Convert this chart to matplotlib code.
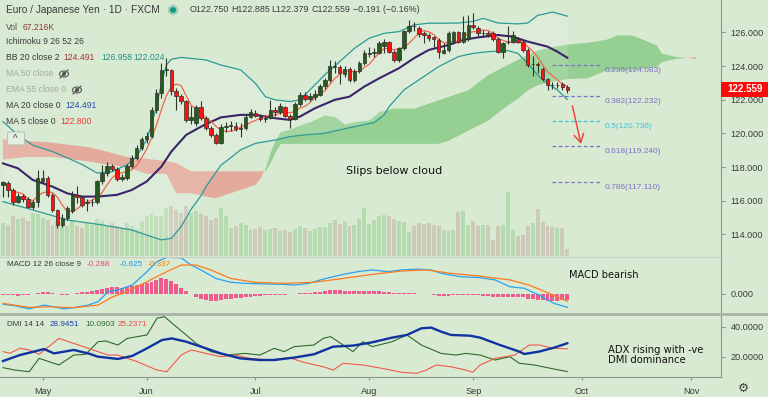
import numpy as np
import pandas as pd
import matplotlib.pyplot as plt
from matplotlib.patches import Rectangle, Ellipse, FancyBboxPatch

plt.rcParams['font.family'] = ['Liberation Sans', 'DejaVu Sans']

W, H = 768, 397
BG = '#d9ead3'

# ---------------- data (EUR/JPY daily) ----------------
opens = [116.95, 117.05, 116.65, 115.95, 116.30, 116.10, 115.65, 115.95, 117.20, 117.35,
         116.35, 115.45, 114.55, 114.95, 115.40, 116.35, 116.20, 115.85, 115.90, 115.90,
         117.15, 117.65, 118.05, 117.90, 117.30, 117.35, 118.05, 118.55, 119.15, 119.65,
         119.85, 121.40, 122.40, 123.75, 123.75, 122.50, 122.20, 121.90, 120.80, 120.60,
         121.55, 120.90, 120.35, 119.90, 119.45, 120.40, 120.45, 120.45, 120.25, 120.30,
         121.00, 121.20, 121.00, 120.85, 120.90, 121.40, 121.25, 121.55, 121.05, 120.85,
         121.75, 122.30, 122.05, 122.15, 122.30, 122.80, 123.15, 124.00, 123.95, 123.55,
         123.85, 123.15, 123.70, 124.15, 124.72, 124.75, 124.80, 125.20, 125.40, 124.85,
         124.35, 125.05, 126.05, 126.40, 126.25, 125.95, 125.85, 125.70, 125.55, 124.80,
         124.95, 125.40, 126.00, 125.45, 125.60, 126.45, 126.25, 125.95, 125.95, 125.95,
         125.60, 124.85, 125.40, 125.45, 125.60, 125.45, 124.95, 124.10, 124.10, 123.85,
         123.20, 122.90, 122.85, 122.95, 122.750]
highs = [117.20, 117.20, 116.75, 116.45, 116.40, 116.25, 116.05, 117.85, 117.85, 117.45,
         116.45, 115.50, 115.20, 115.70, 116.60, 116.85, 116.30, 116.10, 116.10, 117.25,
         118.15, 118.30, 118.20, 118.00, 117.60, 118.20, 118.70, 119.30, 119.80, 120.10,
         121.55, 122.65, 124.15, 124.45, 123.85, 122.70, 122.35, 122.00, 121.60, 121.70,
         121.95, 121.05, 120.45, 120.05, 120.55, 120.70, 120.75, 120.65, 120.60, 121.15,
         121.45, 121.40, 121.15, 121.10, 122.00, 121.55, 121.80, 121.65, 121.15, 121.85,
         122.45, 122.45, 122.40, 122.55, 122.95, 123.30, 124.35, 124.30, 124.05, 124.00,
         123.95, 123.80, 124.30, 124.95, 125.15, 125.05, 125.50, 125.60, 125.50, 124.95,
         125.15, 126.15, 126.75, 126.60, 126.35, 126.10, 125.95, 125.80, 125.65, 125.35,
         126.10, 126.10, 126.10, 126.95, 127.05, 127.15, 126.35, 126.15, 126.05, 126.05,
         125.70, 125.45, 126.35, 126.05, 125.70, 125.55, 125.05, 124.60, 124.25, 123.95,
         123.30, 123.05, 123.05, 123.05, 122.885]
lows = [116.25, 116.25, 115.75, 115.85, 115.90, 115.55, 115.50, 115.65, 117.05, 116.25,
        115.35, 114.40, 114.45, 114.85, 115.30, 115.85, 115.65, 115.40, 115.70, 115.80,
        117.00, 117.50, 117.75, 117.20, 117.15, 117.25, 117.95, 118.45, 119.00, 119.45,
        119.75, 121.20, 122.10, 123.40, 122.30, 121.40, 121.75, 120.65, 120.55, 120.45,
        120.80, 120.20, 119.80, 119.35, 119.35, 120.10, 120.15, 120.15, 119.80, 120.20,
        120.90, 120.95, 120.75, 120.65, 120.85, 121.05, 121.15, 120.95, 120.30, 120.80,
        121.65, 121.90, 121.95, 122.00, 122.20, 122.65, 123.05, 123.60, 122.95, 123.35,
        123.05, 123.05, 123.60, 124.05, 124.55, 124.55, 124.70, 124.75, 124.75, 124.25,
        124.25, 124.95, 125.95, 126.10, 125.75, 125.35, 125.50, 125.15, 124.50, 124.70,
        124.85, 125.30, 125.35, 125.35, 125.50, 126.20, 125.80, 125.75, 125.75, 125.50,
        124.75, 124.50, 125.30, 125.35, 125.35, 124.85, 123.95, 123.40, 123.60, 123.10,
        122.55, 122.65, 122.70, 122.60, 122.379]
closes = [117.10, 116.65, 115.95, 116.30, 116.10, 115.65, 115.95, 117.35, 117.35, 116.35,
          115.45, 114.55, 114.95, 115.55, 116.35, 116.20, 115.75, 115.90, 115.95, 117.15,
          117.65, 118.05, 117.90, 117.30, 117.40, 118.05, 118.55, 119.15, 119.65, 119.85,
          121.40, 122.40, 123.75, 123.80, 122.50, 122.20, 121.90, 120.80, 120.95, 121.55,
          120.90, 120.35, 119.90, 119.45, 120.40, 120.45, 120.45, 120.25, 120.30, 121.00,
          121.25, 121.05, 120.85, 120.90, 121.40, 121.25, 121.60, 121.05, 120.85, 121.75,
          122.30, 122.05, 122.20, 122.35, 122.80, 123.15, 124.00, 123.95, 123.60, 123.85,
          123.15, 123.70, 124.15, 124.75, 124.80, 124.85, 125.35, 125.40, 124.85, 124.35,
          125.05, 126.05, 126.40, 126.35, 125.90, 125.85, 125.65, 125.60, 124.85, 124.95,
          125.95, 126.00, 125.45, 126.00, 126.45, 126.30, 125.95, 125.97, 125.85, 125.60,
          124.85, 125.35, 125.45, 125.85, 125.45, 124.95, 124.05, 124.12, 124.05, 123.20,
          122.90, 122.85, 122.90, 122.75, 122.559]
volume_k = [330, 310, 400, 370, 380, 350, 430, 420, 380, 360, 310, 350, 330, 300, 350, 300,
            280, 330, 310, 370, 350, 300, 330, 300, 270, 330, 300, 270, 350, 400, 420, 400,
            400, 480, 500, 460, 430, 500, 430, 450, 420, 400, 360, 380, 480, 400, 280, 300,
            330, 310, 260, 270, 290, 260, 270, 280, 250, 260, 240, 270, 300, 280, 250, 270,
            290, 290, 330, 360, 320, 340, 300, 310, 370, 480, 320, 360, 400, 410, 400, 370,
            350, 340, 240, 300, 330, 320, 330, 310, 300, 260, 250, 260, 440, 450, 310, 350,
            300, 310, 310, 160, 300, 310, 640, 260, 200, 210, 300, 330, 470, 340, 300, 290,
            280, 280, 67]

# Bollinger bands / MA20 (bar index, price)
bb_up_x = [0, 3, 6, 10, 13, 16, 19, 22, 25, 27, 29, 30, 31, 32, 33, 34, 36, 38, 41, 44,
           48, 51, 53, 55, 58, 60, 62, 65, 68, 71, 74, 77, 80, 83, 86, 89, 92, 95, 97, 100,
           104, 106, 108, 111, 114]
bb_up = [120.70, 119.90, 119.30, 118.92, 118.55, 118.15, 117.65, 117.73, 118.13, 118.62,
         119.61, 120.50, 121.59, 122.97, 124.06, 124.40, 124.51, 124.45, 124.36, 124.06,
         123.77, 122.97, 122.18, 121.99, 121.89, 121.99, 122.58, 123.47, 124.26, 125.05,
         125.65, 125.94, 126.04, 126.44, 126.54, 126.54, 126.55, 126.65, 126.83, 126.55,
         126.50, 126.55, 127.00, 127.20, 126.96]
bb_lo_x = [0, 6, 13, 20, 26, 30, 32, 34, 36, 38, 40, 41, 44, 48, 51, 55, 58, 61, 65, 68,
           71, 75, 77, 78, 81, 85, 88, 92, 95, 98, 102, 104, 106, 108, 110, 112, 114]
bb_lo = [115.95, 115.46, 114.86, 114.57, 114.27, 113.87, 113.68, 113.77, 114.47, 115.50,
         116.30, 116.84, 118.10, 119.02, 119.41, 119.61, 119.81, 119.91, 120.01, 120.21,
         120.40, 120.65, 121.10, 121.59, 122.58, 123.37, 123.96, 124.56, 124.75, 124.85,
         124.91, 124.75, 124.16, 123.47, 122.97, 122.58, 122.02]
ma20_x = [0, 3, 6, 10, 13, 16, 19, 23, 26, 29, 32, 34, 37, 40, 41, 44, 48, 51, 55, 58,
          60, 63, 67, 70, 73, 76, 80, 83, 86, 90, 93, 96, 100, 103, 106, 110, 112, 114]
ma20 = [118.22, 117.93, 117.24, 116.84, 116.44, 116.25, 116.25, 116.35, 116.64, 117.14,
        118.03, 118.92, 119.91, 120.40, 120.55, 120.95, 121.10, 121.10, 120.90, 120.80,
        121.00, 121.49, 121.99, 122.18, 122.78, 123.27, 123.87, 124.46, 124.95, 125.25,
        125.55, 125.70, 125.84, 125.74, 125.45, 125.15, 124.85, 124.49]

# Ichimoku cloud (leading spans, shifted 26 bars ahead)
cloud_x = [0, 5, 10, 14, 17, 20, 25, 29, 33, 35, 38, 41, 43, 48, 51, 52, 53, 54, 55, 56,
           58, 60, 62, 65, 67, 69, 71, 74, 76, 79, 83, 86, 88, 90, 94, 96, 98, 101, 104, 106,
           108, 111, 114, 118, 122, 124, 127, 130, 132, 133, 136, 139, 140]
span_a = [118.45, 118.60, 118.60, 118.45, 118.35, 118.20, 118.00, 117.60, 117.60, 116.45,
          116.45, 116.25, 116.15, 116.65, 116.95, 117.30, 117.95, 118.90, 119.60, 120.10,
          120.25, 120.50, 120.70, 121.10, 121.00, 120.55, 120.70, 120.80, 121.30, 121.50,
          121.50, 121.80, 122.00, 122.20, 122.60, 123.07, 123.50, 123.96, 124.40, 124.70,
          124.95, 125.15, 125.30, 125.40, 125.60, 125.84, 125.84, 125.50, 125.25, 124.76,
          124.56, 124.48, 124.40]
span_b = [119.65, 119.55, 119.45, 119.30, 119.20, 119.00, 118.60, 118.50, 118.35, 118.25,
          117.75, 117.75, 117.75, 117.75, 117.75, 117.75, 117.80, 118.30, 118.90, 119.40,
          119.41, 119.41, 119.41, 119.41, 119.41, 119.41, 119.41, 119.41, 119.41, 119.41,
          119.41, 119.41, 119.41, 119.60, 120.20, 120.50, 120.80, 121.50, 122.10, 122.60,
          122.90, 123.10, 123.25, 123.30, 123.77, 123.77, 123.77, 123.90, 123.96, 124.26,
          124.46, 124.52, 124.52]

# Fibonacci retracement
fib_ratios = ['0.236', '0.382', '0.5', '0.618', '0.786']
fib_levels = [124.083, 122.232, 120.736, 119.240, 117.110]

# MACD (12, 26, 9)
macd_x = [0, 2.4, 5.3, 8.3, 10.3, 12.3, 14.3, 17.2, 19.2, 21.2, 23.2, 26.1, 29.1, 31.1, 33.1,
          36, 38, 40, 43, 46, 49, 52.9, 56.8, 58.8, 61.8, 64.7, 68.7, 71.7, 74.6, 77.6, 80.6,
          83.6, 86.5, 88.5, 92.5, 96.4, 99.4, 102.4, 105.3, 108.3, 111.3, 114]
macd = [-0.48, -0.55, -0.70, -0.52, -0.60, -0.70, -0.64, -0.52, -0.36, 0.11, 0.19, 0.42,
        1.05, 1.52, 1.72, 1.70, 1.36, 1.13, 0.73, 0.55, 0.50, 0.47, 0.45, 0.42, 0.50, 0.70,
        0.92, 1.05, 1.13, 1.05, 1.13, 1.17, 1.13, 0.97, 0.81, 0.77, 0.66, 0.34, 0.27, -0.05,
        -0.44, -0.625]
signal_x = [0, 5.3, 9.3, 14.3, 19.2, 22.2, 25.1, 29.1, 33.1, 36, 39, 42, 46, 50.9, 56.8,
            62.8, 68.7, 74.6, 80.6, 85.5, 90.5, 96.4, 102.4, 106.3, 110.3, 114]
signal = [-0.44, -0.63, -0.60, -0.64, -0.52, -0.13, 0.11, 0.58, 1.05, 1.36, 1.36, 1.13,
          0.73, 0.55, 0.50, 0.55, 0.73, 0.92, 1.08, 1.13, 0.97, 0.84, 0.66, 0.42, 0.03, -0.337]
macd_hist = [-0.05, -0.06, -0.07, -0.08, -0.07, -0.05, -0.02, 0.05, 0.08, 0.08, 0.04, -0.02,
             -0.05, -0.03, 0.02, 0.06, 0.08, 0.10, 0.13, 0.20, 0.25, 0.30, 0.33, 0.32, 0.30,
             0.33, 0.38, 0.43, 0.47, 0.50, 0.58, 0.68, 0.77, 0.72, 0.60, 0.45, 0.30, 0.12,
             -0.02, -0.12, -0.22, -0.30, -0.33, -0.34, -0.30, -0.25, -0.22, -0.20, -0.18,
             -0.15, -0.12, -0.10, -0.08, -0.07, -0.05, -0.04, -0.03, -0.03, -0.02, 0.00, 0.03,
             0.05, 0.06, 0.08, 0.11, 0.14, 0.18, 0.20, 0.18, 0.16, 0.14, 0.13, 0.14, 0.15,
             0.15, 0.13, 0.12, 0.10, 0.08, 0.05, 0.03, 0.04, 0.05, 0.04, 0.02, -0.01, -0.02,
             -0.04, -0.08, -0.10, -0.08, -0.06, -0.07, -0.05, -0.03, -0.05, -0.07, -0.09,
             -0.10, -0.12, -0.15, -0.14, -0.13, -0.12, -0.13, -0.16, -0.22, -0.25, -0.28,
             -0.30, -0.32, -0.33, -0.31, -0.30, -0.288]

# DMI (14, 14)
adx_x = [0, 3.4, 8.3, 10.3, 14.3, 17.2, 19.2, 23.2, 26.1, 29.1, 32.1, 34.1, 37, 40, 44,
         47.9, 51.9, 54.8, 58.8, 62.8, 66.7, 70.7, 74.6, 78.6, 81.6, 84.5, 86.5, 88.5, 90.5,
         94.4, 96.4, 100.4, 104.3, 105.3, 108.3, 111.3, 114]
adx = [17.1, 21.1, 25.1, 22.2, 24.5, 22.2, 20.0, 18.5, 20.5, 25.6, 31.1, 32.2, 30.0, 26.7,
       22.2, 18.9, 17.8, 17.8, 19.4, 21.6, 26.7, 27.4, 29.6, 32.7, 34.5, 38.9, 39.4, 36.7,
       34.5, 34.0, 32.7, 27.8, 23.4, 21.8, 23.4, 26.0, 28.95]
plus_di_x = [0, 2.4, 5.3, 7.3, 11.3, 14.3, 16.7, 19.2, 20.7, 23.2, 25.1, 29.1, 31.1, 32.6,
             35.0, 37.0, 39.0, 42.0, 45.0, 48.9, 51.9, 54.8, 56.8, 58.8, 62.8, 64.7, 66.2,
             68.7, 70.7, 72.7, 74.6, 78.6, 81.6, 84.5, 88.5, 91.5, 93.5, 96.4, 99.4, 102.4,
             104.3, 107.3, 111.3, 114]
plus_di = [12.7, 11.1, 10.0, 18.9, 14.5, 21.1, 21.6, 30.0, 30.5, 27.8, 32.2, 34.5, 45.6,
           46.7, 40.0, 34.5, 28.9, 23.4, 21.1, 22.2, 21.1, 25.6, 23.4, 26.7, 27.8, 32.2, 33.4,
           27.8, 23.4, 30.0, 26.7, 30.0, 34.5, 27.8, 22.2, 21.1, 22.2, 21.1, 17.8, 20.0,
           15.6, 14.5, 11.8, 10.09]
minus_di_x = [0, 1.4, 3.4, 5.3, 7.3, 11.3, 14.3, 17.2, 21.2, 23.2, 27.1, 31.1, 33.1, 36.0,
              38.0, 41.0, 44.0, 46.9, 49.9, 53.9, 57.8, 60.8, 64.7, 66.7, 68.7, 72.7, 76.6,
              80.6, 83.6, 85.5, 87.5, 90.5, 93.5, 94.9, 96.4, 99.4, 103.4, 106.3, 108.3,
              111.3, 114]
minus_di = [23.4, 22.3, 25.6, 24.5, 21.6, 32.2, 28.9, 25.6, 21.1, 21.1, 16.7, 11.1, 10.0,
            21.1, 24.5, 22.2, 20.0, 21.1, 18.9, 17.8, 19.4, 16.2, 13.3, 11.1, 15.6, 14.5,
            12.2, 9.6, 8.9, 11.1, 14.5, 13.3, 11.1, 9.6, 14.5, 18.9, 21.1, 27.8, 27.8, 25.6,
            25.24]

month_pos = [8, 29, 51, 74, 95, 117, 139]
month_lbl = ['May', 'Jun', 'Jul', 'Aug', 'Sep', 'Oct', 'Nov']

# ---------------- layout helpers ----------------
def box(x0, y0, x1, y1):
    return [x0 / W, 1 - y1 / H, (x1 - x0) / W, (y1 - y0) / H]

AXIS_X = 721
X_LIM = (-0.606, 145.05)
AX_C = '#8c968c'
NOTE_FONT = 'DejaVu Sans'

fig = plt.figure(figsize=(W / 100, H / 100), dpi=100)
fig.patch.set_facecolor(BG)

ax_vol = fig.add_axes(box(0, 0, AXIS_X, 256))
ax = fig.add_axes(box(0, 0, AXIS_X, 256))
ax_macd = fig.add_axes(box(0, 257, AXIS_X, 313))
ax_dmi = fig.add_axes(box(0, 315, AXIS_X, 377))

for a in (ax_vol, ax, ax_macd, ax_dmi):
    a.set_xlim(*X_LIM)
    a.set_facecolor(BG)
    for s in ('top', 'left', 'bottom'):
        a.spines[s].set_visible(False)
    a.spines['right'].set_color(AX_C)
    a.set_xticks([])
    a.yaxis.tick_right()
    a.tick_params(axis='y', length=3, color=AX_C, labelsize=6.6, labelcolor='#3a3a3a', pad=4)

idx = np.arange(len(closes))
o = np.array(opens); c = np.array(closes); hi = np.array(highs); lo = np.array(lows)
up = c >= o

# volume (behind everything)
ax_vol.set_ylim(0, 2560)
ax_vol.set_yticks([])
ax_vol.spines['right'].set_visible(False)
ax_vol.bar(idx, volume_k, width=0.8, color=np.where(up, '#b7dbb0', '#cdcab8'), zorder=1)

ax.patch.set_visible(False)
ax.set_ylim(112.724, 127.917)

# cloud
cx = np.array(cloud_x, float)
sa = np.array(span_a); sb = np.array(span_b)
ax.fill_between(cx, sa, sb, where=sa >= sb, interpolate=True, color='#95cf92', lw=0, zorder=1)
ax.fill_between(cx, sa, sb, where=sa < sb, interpolate=True, color='#e4ab9c', lw=0, zorder=1)

# Bollinger bands
up_i = np.interp(idx, bb_up_x, bb_up)
lo_i = np.interp(idx, bb_lo_x, bb_lo)
ax.fill_between(idx, lo_i, up_i, color='white', alpha=0.13, lw=0, zorder=2)
ax.plot(bb_up_x, bb_up, color='#2d9a96', lw=0.9, zorder=3)
ax.plot(bb_lo_x, bb_lo, color='#2d9a96', lw=0.9, zorder=3)
ax.plot(ma20_x, ma20, color='#3a2468', lw=1.5, zorder=3)
ma5 = pd.Series(closes).rolling(5, min_periods=1).mean()
ax.plot(idx, ma5, color='#f2654f', lw=0.9, zorder=4)

# candles
ax.vlines(idx, lo, hi, color='#2d332d', lw=0.8, zorder=5)
body_lo = np.minimum(o, c)
body_h = np.maximum(np.abs(c - o), 0.03)
ax.bar(idx, body_h, bottom=body_lo, width=0.72, color=np.where(up, '#275a1c', '#ff1010'),
       edgecolor='#2d332d', linewidth=0.5, zorder=6)

# fib levels
for r, lv in zip(fib_ratios, fib_levels):
    col = '#3fc3d4' if r == '0.5' else '#7e70c6'
    ax.hlines(lv, 110.9, 121.0, colors=col, linestyles=(0, (3, 2)), lw=0.9, zorder=4)
    ax.annotate(f'{r}({lv:.3f})', (121.6, lv), xytext=(0, -1.5), textcoords='offset points',
                ha='left', va='top', fontsize=6.0, color=col)

ax.annotate('', xy=(116.9, 119.21), xytext=(114.9, 121.80),
            arrowprops=dict(arrowstyle='->,head_length=0.6,head_width=0.35', color='#f0463c', lw=1.1),
            zorder=7)
ax.text(79.0, 117.77, 'Slips below cloud', fontsize=8, color='#111111', ha='center', va='center',
        family=NOTE_FONT, zorder=7)

price_ticks = [114, 116, 118, 120, 122, 124, 126]
ax.set_yticks(price_ticks)
ax.set_yticklabels([f'{v:.3f}' for v in price_ticks])

# MACD panel
ax_macd.set_ylim(-0.892, 1.737)
ax_macd.bar(idx, macd_hist, width=0.8, color='#ef5b8c', zorder=2)
ax_macd.plot(macd_x, macd, color='#2aa2f0', lw=0.9, zorder=3)
ax_macd.plot(signal_x, signal, color='#ff7a1a', lw=0.9, zorder=3)
ax_macd.set_yticks([0])
ax_macd.set_yticklabels(['0.000'])
ax_macd.text(114.3, 0.89, 'MACD bearish', fontsize=7.1, color='#111111', ha='left',
             va='center', family=NOTE_FONT)

# DMI panel
ax_dmi.set_ylim(6.47, 47.8)
ax_dmi.plot(plus_di_x, plus_di, color='#2f6a2a', lw=0.8, zorder=3)
ax_dmi.plot(minus_di_x, minus_di, color='#f2594b', lw=0.8, zorder=3)
ax_dmi.plot(adx_x, adx, color='#1033a0', lw=1.7, zorder=4)
ax_dmi.set_yticks([20, 40])
ax_dmi.set_yticklabels(['20.0000', '40.0000'])
ax_dmi.spines['bottom'].set_visible(True)
ax_dmi.spines['bottom'].set_color(AX_C)
ax_dmi.set_xticks(month_pos)
ax_dmi.set_xticklabels(month_lbl)
ax_dmi.tick_params(axis='x', length=2.5, color=AX_C, labelsize=6.6, labelcolor='#3a3a3a', pad=5)
ax_dmi.text(122.2, 21.1, 'ADX rising with -ve\nDMI dominance', fontsize=7.2, color='#111111',
            ha='left', va='center', linespacing=1.05, family=NOTE_FONT)

# ---------------- overlay: legends, labels ----------------
ov = fig.add_axes([0, 0, 1, 1])
ov.set_xlim(0, W); ov.set_ylim(H, 0)
ov.axis('off')
ov.patch.set_visible(False)

def t(x, y, s, color='#3a3a3a', size=6.2, **kw):
    ov.text(x, y, s, color=color, fontsize=size, ha='left', va='center', **kw)

# panel separators
ov.plot([0, AXIS_X], [256.5, 256.5], color='#c3cfbf', lw=0.8)
ov.plot([0, W], [314, 314], color='#a9b3a6', lw=2)

t(6, 10, 'Euro / Japanese Yen · 1D · FXCM', size=7.3)
ov.add_patch(Ellipse((173, 10), 9, 9, color='#9ccfb8'))
ov.add_patch(Ellipse((173, 10), 4.5, 4.5, color='#15977f'))
ohlc_txt = [(190, 'O122.750'), (231, 'H122.885'), (271, 'L122.379'), (312, 'C122.559'),
            (353, '−0.191 (−0.16%)')]
for x0, s in ohlc_txt:
    t(x0, 10, s, size=6.4)
t(6, 27, 'Vol', color='#555555')
t(23, 27, '67.216K', color='#8b3b3b')
t(6, 42, 'Ichimoku 9 26 52 26')
t(6, 58, 'BB 20 close 2')
t(63, 58, '124.491', color='#9a3a3a')
t(101, 58, '126.958', color='#23918b')
t(133, 58, '122.024', color='#23918b')
t(6, 74, 'MA 50 close', color='#a3aaa3')
t(6, 90, 'EMA 55 close 0', color='#a3aaa3')
for ex, ey in ((64, 74), (77, 90)):
    ov.add_patch(Ellipse((ex, ey), 9, 6, fill=False, ec='#555555', lw=0.8))
    ov.add_patch(Ellipse((ex, ey), 2.6, 2.6, color='#555555'))
    ov.plot([ex - 4, ex + 4], [ey + 4, ey - 4], color='#555555', lw=0.8)
t(6, 106, 'MA 20 close 0')
t(65, 106, '124.491', color='#1f4fb5')
t(6, 122, 'MA 5 close 0')
t(60, 122, '122.800', color='#ef3b2c')
ov.add_patch(FancyBboxPatch((7.5, 132), 17, 13, boxstyle='round,pad=0,rounding_size=2',
                            fc='#e3efe0', ec='#b8c4b6', lw=0.8))
t(12.5, 138.5, '^', color='#444444', size=7)

t(7, 265, 'MACD 12 26 close 9', size=5.9)
t(87, 265, '-0.288', color='#e8477c', size=5.9)
t(120, 265, '-0.625', color='#2196f3', size=5.9)
t(148, 265, '-0.337', color='#f57c00', size=5.9)
t(7, 324, 'DMI 14 14', size=5.9)
t(50, 324, '28.9451', color='#1b3fb0', size=5.9)
t(85, 324, '10.0903', color='#2f6a2a', size=5.9)
t(118, 324, '25.2371', color='#ef4a3c', size=5.9)

# last price tag
ov.add_patch(Rectangle((AXIS_X, 82), W - AXIS_X, 14.5, color='#ff0a0a', lw=0))
t(727, 89.3, '122.559', color='white', size=7, weight='bold')
ov.text(743, 388, '⚙', fontsize=9, color='#444444', ha='center', va='center',
        family=NOTE_FONT)

fig.savefig('out.png', dpi=100, facecolor=BG)
